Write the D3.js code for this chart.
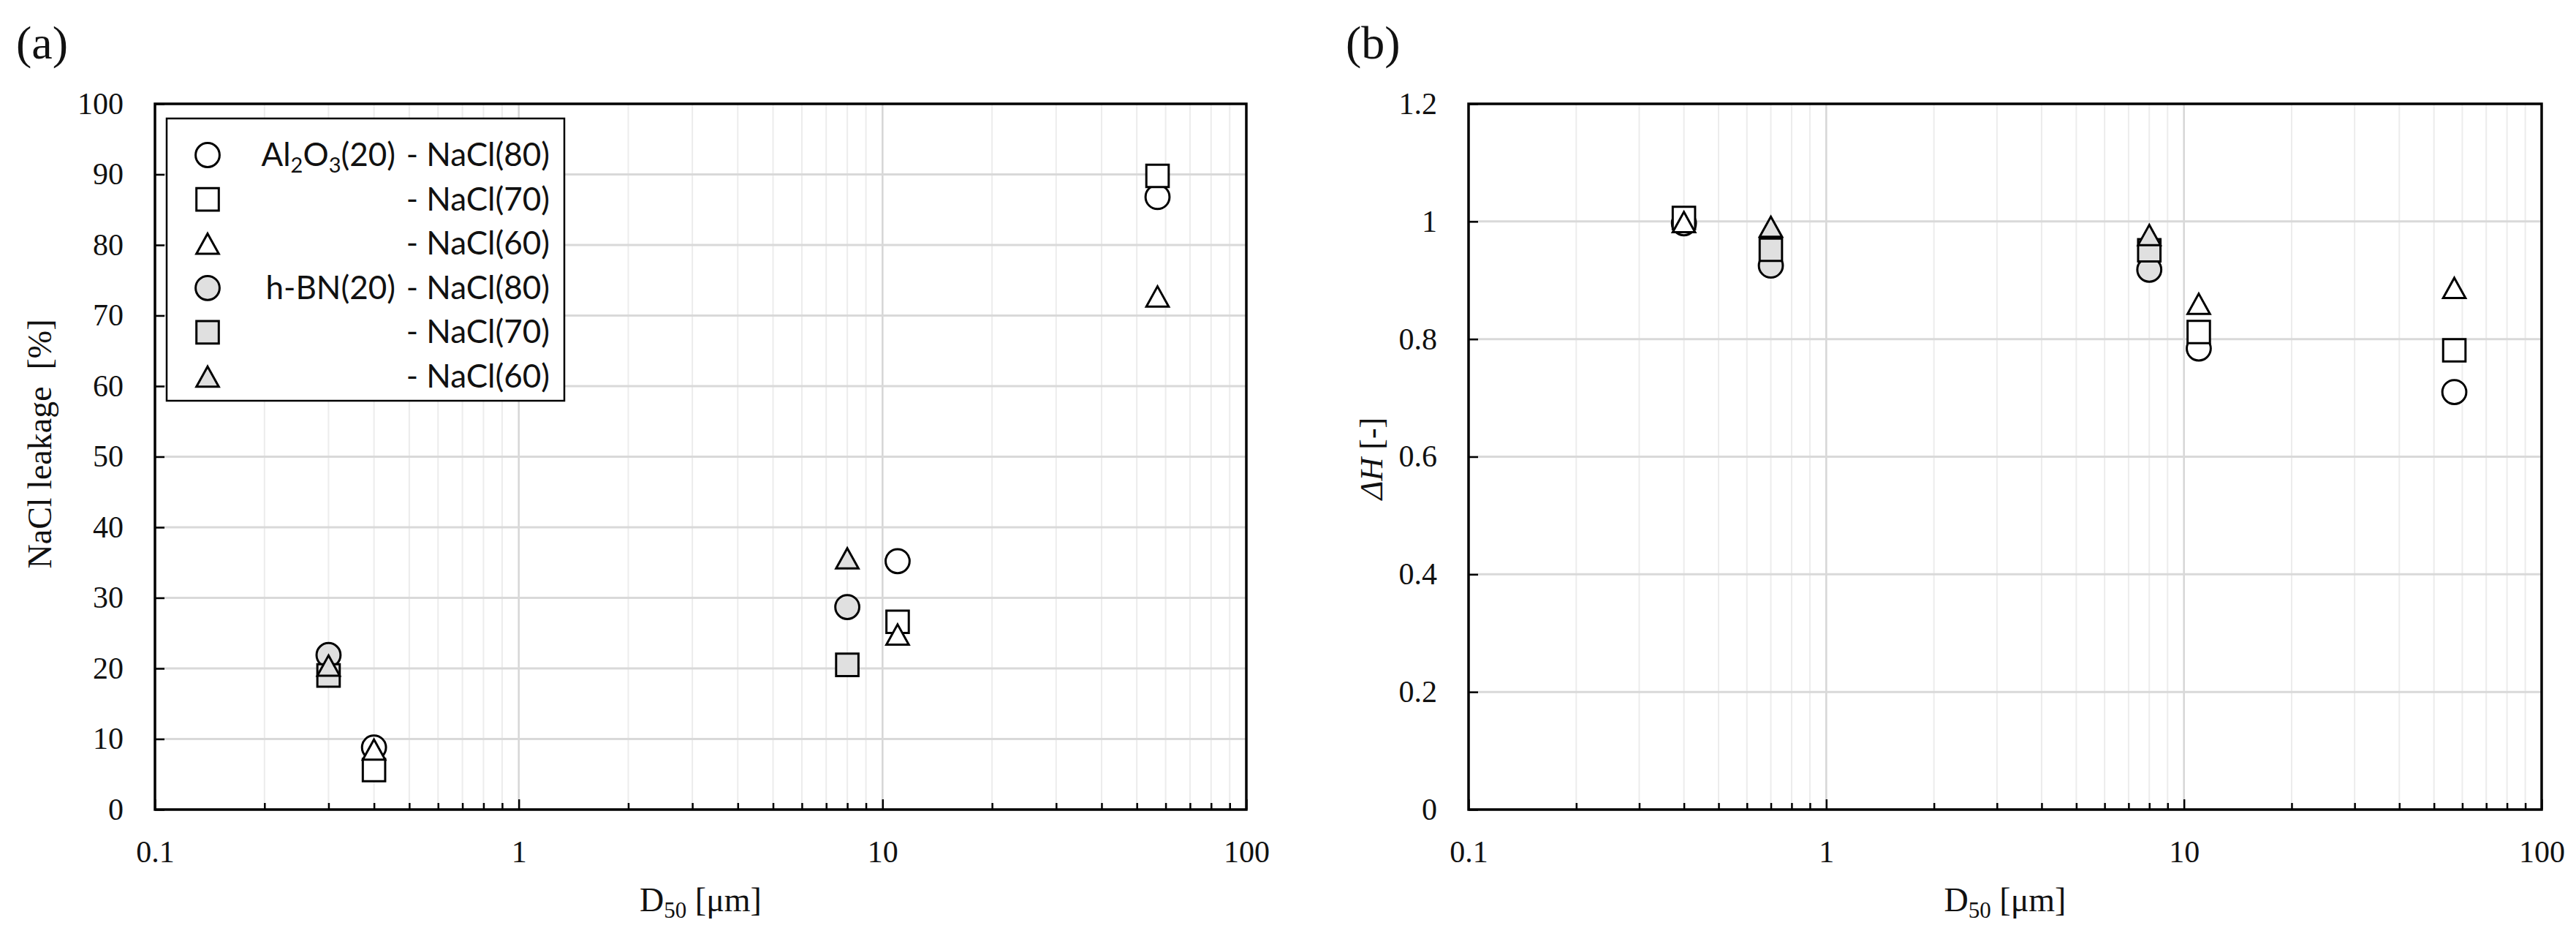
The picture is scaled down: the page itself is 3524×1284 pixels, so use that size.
<!DOCTYPE html>
<html>
<head>
<meta charset="utf-8">
<script src="https://cdn.jsdelivr.net/npm/d3@7"></script>
<style>
  body { margin: 0; background: #fff; }
  svg { display: block; }
</style>
</head>
<body>
<div id="container"></div>
<script>
/* DATA */
const xTickLabels = [0.1, 1, 10, 100];
const yTicksA = [0, 10, 20, 30, 40, 50, 60, 70, 80, 90, 100];
const yTicksB = [0, 0.2, 0.4, 0.6, 0.8, 1, 1.2];

// D50 [um] of each powder
const d50Al = [0.4, 11, 57];
const d50BNa = [0.3, 8];
const d50BNb = [0.7, 8];

// (a) NaCl leakage [%]
const leakAl80 = [8.8, 35.2, 86.8];
const leakAl70 = [5.6, 26.6, 89.8];
const leakAl60 = [8.5, 24.8, 72.7];
const leakBN80 = [21.9, 28.7];
const leakBN70 = [19.0, 20.5];
const leakBN60 = [20.4, 35.6];

// (b) dH [-]
const dhAl80 = [0.997, 0.784, 0.710];
const dhAl70 = [1.006, 0.812, 0.781];
const dhAl60 = [0.999, 0.860, 0.887];
const dhBN80 = [0.925, 0.918];
const dhBN70 = [0.952, 0.951];
const dhBN60 = [0.991, 0.977];

const legendPrefix = ["Al2O3(20)", "", "", "h-BN(20)", "", ""];
const legendSuffix = ["- NaCl(80)", "- NaCl(70)", "- NaCl(60)", "- NaCl(80)", "- NaCl(70)", "- NaCl(60)"];

/* CONSTANTS */
const width = 3524, height = 1284;
const serif = "'Liberation Serif', 'Times New Roman', serif";
const sans = "Lato, 'Noto Sans', sans-serif";
const grayFill = "#e0e0e0";
const shapes = ["circle", "square", "triangle", "circle", "square", "triangle"];
const fills = ["#fff", "#fff", "#fff", grayFill, grayFill, grayFill];

const seriesA = [
  { x: d50Al, y: leakAl80 }, { x: d50Al, y: leakAl70 }, { x: d50Al, y: leakAl60 },
  { x: d50BNa, y: leakBN80 }, { x: d50BNa, y: leakBN70 }, { x: d50BNa, y: leakBN60 },
];
const seriesB = [
  { x: d50Al, y: dhAl80 }, { x: d50Al, y: dhAl70 }, { x: d50Al, y: dhAl60 },
  { x: d50BNb, y: dhBN80 }, { x: d50BNb, y: dhBN70 }, { x: d50BNb, y: dhBN60 },
];

function markerPath(shape) {
  const p = d3.path();
  if (shape === "circle") {
    p.arc(0, 0, 16.4, 0, 2 * Math.PI);
  } else if (shape === "square") {
    p.rect(-15.3, -15.3, 30.6, 30.6);
  } else {
    p.moveTo(0, -13.8); p.lineTo(15.3, 13.8); p.lineTo(-15.3, 13.8); p.closePath();
  }
  return p.toString();
}

const isMajor = d => Math.abs(Math.log10(d) - Math.round(Math.log10(d))) < 1e-9;

// CREATE SVG
const svg = d3.select("#container")
  .append("svg")
  .attr("width", width)
  .attr("height", height)
  .style("background", "#fff");

function drawPanel(p) {
  const g = svg.append("g");
  const x = d3.scaleLog().domain([0.1, 100]).range([p.left, p.right]);
  const y = d3.scaleLinear().domain(p.yDomain).range([p.bottom, p.top]);
  const allX = x.ticks();
  const minorX = allX.filter(d => !isMajor(d));

  // GRIDLINES
  g.append("g").selectAll("line").data(minorX).join("line")
    .attr("x1", x).attr("x2", x).attr("y1", p.top).attr("y2", p.bottom)
    .attr("stroke", "#ececec").attr("stroke-width", 2);
  g.append("g").selectAll("line").data([1, 10]).join("line")
    .attr("x1", x).attr("x2", x).attr("y1", p.top).attr("y2", p.bottom)
    .attr("stroke", "#d6d6d6").attr("stroke-width", 2.5);
  g.append("g").selectAll("line").data(p.yTicks).join("line")
    .attr("x1", p.left).attr("x2", p.right).attr("y1", y).attr("y2", y)
    .attr("stroke", "#d9d9d9").attr("stroke-width", 3);

  // AXES (ticks point inside)
  const styleAxis = a => {
    a.select(".domain").remove();
    a.selectAll(".tick line").attr("stroke", "#000").attr("stroke-width", 2.5);
    a.selectAll("text").attr("font-family", serif).attr("font-size", 42).attr("fill", "#111");
  };
  g.append("g").attr("transform", `translate(0,${p.bottom})`)
    .call(d3.axisBottom(x).tickValues(minorX).tickSize(-9).tickFormat(""))
    .call(styleAxis);
  g.append("g").attr("transform", `translate(0,${p.bottom})`)
    .call(d3.axisBottom(x).tickValues(xTickLabels).tickSize(-14).tickPadding(42).tickFormat(d3.format("~g")))
    .call(styleAxis);
  g.append("g").attr("transform", `translate(${p.left},0)`)
    .call(d3.axisLeft(y).tickValues(p.yTicks).tickSize(-13).tickPadding(43).tickFormat(p.yFormat))
    .call(styleAxis);

  // FRAME
  g.append("rect")
    .attr("x", p.left).attr("y", p.top)
    .attr("width", p.right - p.left).attr("height", p.bottom - p.top)
    .attr("fill", "none").attr("stroke", "#000").attr("stroke-width", 3.5);

  // POINTS
  p.series.forEach((s, i) => {
    g.append("g").selectAll("path")
      .data(s.x.map((d, j) => [d, s.y[j]]))
      .join("path")
      .attr("d", markerPath(shapes[i]))
      .attr("fill", fills[i])
      .attr("stroke", "#000")
      .attr("stroke-width", 3)
      .attr("transform", d => `translate(${x(d[0])},${y(d[1])})`);
  });

  // X TITLE
  const xt = g.append("text")
    .attr("x", (p.left + p.right) / 2).attr("y", 1246)
    .attr("text-anchor", "middle")
    .attr("font-family", serif).attr("font-size", 46).attr("fill", "#111");
  xt.append("tspan").text("D");
  xt.append("tspan").attr("font-size", 31).attr("dy", 9).text("50");
  xt.append("tspan").attr("dy", -9).text(" [\u03bcm]");

  // PANEL LETTER
  g.append("text")
    .attr("x", p.letterX).attr("y", 80)
    .attr("font-family", serif).attr("font-size", 64).attr("fill", "#111")
    .text(p.letter);

  return g;
}

// PANEL (a)
const ga = drawPanel({
  left: 212, right: 1705, top: 142, bottom: 1107,
  yDomain: [0, 100], yTicks: yTicksA, yFormat: d3.format("d"),
  series: seriesA, letter: "(a)", letterX: 22,
});
ga.append("text")
  .attr("transform", "translate(70,607) rotate(-90)")
  .attr("text-anchor", "middle")
  .attr("font-family", serif).attr("font-size", 46).attr("fill", "#111")
  .attr("xml:space", "preserve")
  .text("NaCl leakage  [%]");

// LEGEND
const legend = ga.append("g");
legend.append("rect")
  .attr("x", 228).attr("y", 162).attr("width", 544).attr("height", 386)
  .attr("fill", "#fff").attr("stroke", "#000").attr("stroke-width", 2.5);
legendSuffix.forEach((label, i) => {
  const cy = 212 + i * 60.6;
  legend.append("path")
    .attr("d", markerPath(shapes[i]))
    .attr("fill", fills[i]).attr("stroke", "#000").attr("stroke-width", 3)
    .attr("transform", `translate(284,${cy})`);
  legend.append("text")
    .attr("x", 752).attr("y", cy + 15)
    .attr("text-anchor", "end")
    .attr("font-family", sans).attr("font-size", 44).attr("fill", "#111")
    .text(label);
  const pre = legendPrefix[i];
  if (pre) {
    const t = legend.append("text")
      .attr("x", 541).attr("y", cy + 15)
      .attr("text-anchor", "end")
      .attr("font-family", sans).attr("font-size", 44).attr("fill", "#111");
    // split digits after element letters into subscripts (Al2O3)
    const parts = pre.startsWith("Al") ? [["Al", 0], ["2", 1], ["O", 0], ["3", 1], ["(20)", 0]] : [[pre, 0]];
    let shift = 0;
    parts.forEach(([txt, sub]) => {
      const dy = sub ? 9 - shift : -shift;
      shift = sub ? 9 : 0;
      t.append("tspan").attr("dy", dy).attr("font-size", sub ? 29 : 44).text(txt);
    });
  }
});

// PANEL (b)
const gb = drawPanel({
  left: 2009, right: 3477, top: 142, bottom: 1107,
  yDomain: [0, 1.2], yTicks: yTicksB, yFormat: d => String(+d.toFixed(1)),
  series: seriesB, letter: "(b)", letterX: 1841,
});
const yb = gb.append("text")
  .attr("transform", "translate(1891,627) rotate(-90)")
  .attr("text-anchor", "middle")
  .attr("font-family", serif).attr("font-size", 44).attr("fill", "#111");
yb.append("tspan").attr("font-style", "italic").text("\u0394H");
yb.append("tspan").text(" [-]");
</script>
</body>
</html>
